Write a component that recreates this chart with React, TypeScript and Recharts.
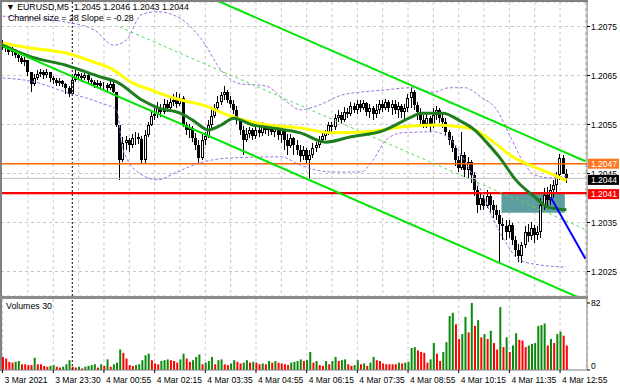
import React from "react";
import {
  ComposedChart,
  Bar,
  Line,
  XAxis,
  YAxis,
  CartesianGrid,
  ReferenceLine,
  ReferenceArea,
  Cell,
} from "recharts";

const FONT = '"Liberation Sans", Arial, sans-serif';

// EURUSD M5 bars [open, high, low, close], 3 Mar 22:10 .. 4 Mar 13:05
const candles: [number, number, number, number][] = [
  [1.20714, 1.20722, 1.20702, 1.20706], [1.20706, 1.20716, 1.20698, 1.20708], [1.20708, 1.2071, 1.20692, 1.20698],
  [1.20698, 1.20708, 1.2069, 1.20702], [1.20702, 1.20704, 1.20686, 1.20692], [1.20692, 1.20698, 1.20678, 1.20686],
  [1.20686, 1.2069, 1.20673, 1.20678], [1.20678, 1.20688, 1.20669, 1.20682], [1.20682, 1.20682, 1.20649, 1.20657],
  [1.20657, 1.20657, 1.20616, 1.20633], [1.20633, 1.20653, 1.20629, 1.20645], [1.20645, 1.20661, 1.20641, 1.20653],
  [1.20653, 1.20663, 1.20647, 1.20657], [1.20657, 1.20661, 1.20643, 1.20651], [1.20651, 1.20663, 1.20645, 1.20657],
  [1.20657, 1.20657, 1.20637, 1.20645], [1.20645, 1.20649, 1.20633, 1.20641], [1.20641, 1.20645, 1.20629, 1.20635],
  [1.20635, 1.20645, 1.20629, 1.20639], [1.20639, 1.20641, 1.20627, 1.20633], [1.20633, 1.20635, 1.20612, 1.20625],
  [1.20625, 1.20629, 1.20606, 1.20612], [1.20612, 1.20649, 1.2061, 1.20641], [1.20641, 1.20661, 1.20637, 1.20653],
  [1.20653, 1.20657, 1.20641, 1.20649], [1.20649, 1.20655, 1.20637, 1.20645], [1.20645, 1.20657, 1.20641, 1.20651],
  [1.20651, 1.20653, 1.20633, 1.20641], [1.20641, 1.20645, 1.20629, 1.20637], [1.20637, 1.20641, 1.20625, 1.20631],
  [1.20631, 1.20641, 1.20625, 1.20635], [1.20635, 1.20639, 1.2062, 1.20629], [1.20629, 1.20637, 1.2062, 1.20631],
  [1.20631, 1.20635, 1.20616, 1.20625], [1.20625, 1.20645, 1.2062, 1.20633], [1.20633, 1.20641, 1.20614, 1.20616],
  [1.20616, 1.20616, 1.20545, 1.20549], [1.20549, 1.20549, 1.20437, 1.20478], [1.20478, 1.20525, 1.20473, 1.20512],
  [1.20512, 1.20527, 1.20498, 1.20518], [1.20518, 1.20522, 1.20494, 1.20508], [1.20508, 1.20531, 1.20502, 1.20522],
  [1.20522, 1.20535, 1.20508, 1.20525], [1.20525, 1.20533, 1.2051, 1.2052], [1.2052, 1.20527, 1.20469, 1.20478],
  [1.20478, 1.20539, 1.20469, 1.20529], [1.20529, 1.20555, 1.20525, 1.20549], [1.20549, 1.2058, 1.20547, 1.20567],
  [1.20567, 1.20584, 1.20559, 1.20571], [1.20571, 1.20596, 1.20563, 1.20584], [1.20584, 1.20592, 1.20565, 1.20576],
  [1.20576, 1.20602, 1.20571, 1.20592], [1.20592, 1.206, 1.20576, 1.20584], [1.20584, 1.20606, 1.2058, 1.20596],
  [1.20596, 1.20612, 1.20588, 1.206], [1.206, 1.20616, 1.20584, 1.20592], [1.20592, 1.20612, 1.20588, 1.20604],
  [1.20604, 1.20608, 1.20545, 1.20549], [1.20549, 1.20555, 1.20529, 1.20539], [1.20539, 1.20551, 1.20522, 1.20543],
  [1.20543, 1.20547, 1.20514, 1.20522], [1.20522, 1.20533, 1.20498, 1.20508], [1.20508, 1.20518, 1.20471, 1.20482],
  [1.20482, 1.20531, 1.20478, 1.20518], [1.20518, 1.20535, 1.20508, 1.20527], [1.20527, 1.20559, 1.20522, 1.20549],
  [1.20549, 1.2058, 1.20543, 1.20567], [1.20567, 1.20592, 1.20563, 1.20584], [1.20584, 1.20608, 1.20576, 1.20596],
  [1.20596, 1.20616, 1.2059, 1.2061], [1.2061, 1.20629, 1.206, 1.20616], [1.20616, 1.2062, 1.20594, 1.206],
  [1.206, 1.20608, 1.20584, 1.20592], [1.20592, 1.206, 1.20571, 1.2058], [1.2058, 1.20588, 1.20551, 1.20559],
  [1.20559, 1.20563, 1.20529, 1.20539], [1.20539, 1.20547, 1.20488, 1.20518], [1.20518, 1.20543, 1.20514, 1.20531],
  [1.20531, 1.20545, 1.20522, 1.20539], [1.20539, 1.20543, 1.20518, 1.20527], [1.20527, 1.20547, 1.2052, 1.20539],
  [1.20539, 1.20549, 1.20525, 1.20533], [1.20533, 1.20555, 1.20527, 1.20547], [1.20547, 1.20551, 1.20531, 1.20539],
  [1.20539, 1.20551, 1.20527, 1.20545], [1.20545, 1.20549, 1.20529, 1.20535], [1.20535, 1.20551, 1.20525, 1.20543],
  [1.20543, 1.20545, 1.20518, 1.20529], [1.20529, 1.20545, 1.20512, 1.20539], [1.20539, 1.20539, 1.20498, 1.20518],
  [1.20518, 1.20531, 1.20488, 1.20506], [1.20506, 1.20531, 1.20502, 1.20522], [1.20522, 1.20525, 1.20488, 1.20508],
  [1.20508, 1.20518, 1.20488, 1.20498], [1.20498, 1.20508, 1.20473, 1.20486], [1.20486, 1.20506, 1.20478, 1.20498],
  [1.20498, 1.20502, 1.20469, 1.20478], [1.20478, 1.20498, 1.20439, 1.20488], [1.20488, 1.20512, 1.20482, 1.20502],
  [1.20502, 1.20514, 1.20494, 1.20508], [1.20508, 1.20527, 1.20502, 1.20518], [1.20518, 1.20533, 1.20514, 1.20527],
  [1.20527, 1.20539, 1.20518, 1.20535], [1.20535, 1.20555, 1.20529, 1.20549], [1.20549, 1.20555, 1.20535, 1.20545],
  [1.20545, 1.20571, 1.20539, 1.20563], [1.20563, 1.2058, 1.20555, 1.20569], [1.20569, 1.20576, 1.20551, 1.20559],
  [1.20559, 1.20586, 1.20555, 1.20576], [1.20576, 1.20584, 1.20563, 1.20571], [1.20571, 1.20596, 1.20567, 1.20588],
  [1.20588, 1.20594, 1.20573, 1.2058], [1.2058, 1.206, 1.20571, 1.20592], [1.20592, 1.206, 1.20576, 1.20584],
  [1.20584, 1.206, 1.2058, 1.20594], [1.20594, 1.20596, 1.20567, 1.20576], [1.20576, 1.20592, 1.20563, 1.20584],
  [1.20584, 1.20588, 1.20559, 1.20571], [1.20571, 1.20592, 1.20563, 1.2058], [1.2058, 1.206, 1.20571, 1.20592],
  [1.20592, 1.206, 1.20576, 1.20584], [1.20584, 1.20602, 1.2058, 1.20596], [1.20596, 1.206, 1.20576, 1.20584],
  [1.20584, 1.206, 1.20569, 1.20592], [1.20592, 1.206, 1.20571, 1.2058], [1.2058, 1.20596, 1.20563, 1.20588],
  [1.20588, 1.20592, 1.20563, 1.20576], [1.20576, 1.20592, 1.20559, 1.20584], [1.20584, 1.20612, 1.20576, 1.20604],
  [1.20604, 1.20627, 1.20584, 1.20616], [1.20616, 1.2062, 1.2058, 1.2059], [1.2059, 1.20596, 1.20559, 1.20576],
  [1.20576, 1.20584, 1.20549, 1.20559], [1.20559, 1.20569, 1.20543, 1.20551], [1.20551, 1.20571, 1.20543, 1.20563],
  [1.20563, 1.20567, 1.20535, 1.20547], [1.20547, 1.20584, 1.20543, 1.20569], [1.20569, 1.20588, 1.20559, 1.2058],
  [1.2058, 1.20584, 1.20553, 1.20563], [1.20563, 1.20571, 1.20543, 1.20555], [1.20555, 1.20563, 1.20527, 1.20535],
  [1.20535, 1.20539, 1.20508, 1.20518], [1.20518, 1.20527, 1.20494, 1.20502], [1.20502, 1.20508, 1.20465, 1.20478],
  [1.20478, 1.20486, 1.20453, 1.20461], [1.20461, 1.20535, 1.20457, 1.20488], [1.20488, 1.20494, 1.20443, 1.20457],
  [1.20457, 1.20484, 1.20441, 1.20473], [1.20473, 1.20478, 1.20431, 1.20447], [1.20447, 1.20453, 1.20404, 1.20416],
  [1.20416, 1.20425, 1.20369, 1.20386], [1.20386, 1.2041, 1.20376, 1.204], [1.204, 1.20406, 1.20376, 1.20384],
  [1.20384, 1.20416, 1.2038, 1.20404], [1.20404, 1.20412, 1.20369, 1.20386], [1.20386, 1.20396, 1.20359, 1.20376],
  [1.20376, 1.20386, 1.20355, 1.20365], [1.20365, 1.20376, 1.2027, 1.20347], [1.20347, 1.20359, 1.20314, 1.20343],
  [1.20343, 1.20355, 1.20314, 1.20331], [1.20331, 1.20355, 1.20318, 1.20345], [1.20345, 1.20349, 1.20304, 1.20314],
  [1.20314, 1.20323, 1.2028, 1.20294], [1.20294, 1.20306, 1.2027, 1.20282], [1.20282, 1.2031, 1.20267, 1.20304],
  [1.20304, 1.20343, 1.20298, 1.20331], [1.20331, 1.20347, 1.2031, 1.20323], [1.20323, 1.20351, 1.20314, 1.20339],
  [1.20339, 1.20345, 1.20308, 1.20325], [1.20325, 1.20343, 1.20314, 1.20331], [1.20331, 1.204, 1.20318, 1.20386],
  [1.20386, 1.2042, 1.20376, 1.20406], [1.20406, 1.20423, 1.20384, 1.20396], [1.20396, 1.20429, 1.20386, 1.20416],
  [1.20416, 1.20437, 1.204, 1.20427], [1.20427, 1.20453, 1.20412, 1.20447], [1.20447, 1.2049, 1.20437, 1.20482],
  [1.20482, 1.20488, 1.20449, 1.2045], [1.2045, 1.2046, 1.2043, 1.2044],
];

const volumes = [
  16, 14, 10, 9, 10, 11, 7, 7, 6, 6, 15, 7, 7, 5, 4, 5, 6, 4, 3, 4,
  7, 12, 4, 3, 4, 2, 4, 5, 6, 7, 3, 7, 5, 13, 4, 7, 9, 25, 21, 14,
  6, 5, 6, 7, 12, 18, 20, 12, 8, 7, 11, 12, 13, 12, 11, 9, 13, 20, 14, 10,
  12, 16, 19, 7, 9, 11, 16, 7, 12, 13, 7, 6, 8, 12, 10, 8, 9, 12, 9, 10,
  9, 7, 8, 7, 11, 9, 11, 9, 8, 7, 6, 9, 10, 11, 13, 11, 12, 22, 9, 11,
  6, 5, 11, 7, 11, 16, 11, 12, 13, 7, 5, 6, 12, 7, 8, 5, 9, 16, 12, 11,
  8, 7, 7, 7, 7, 9, 8, 9, 10, 27, 28, 24, 22, 21, 9, 13, 33, 20, 11, 22,
  34, 66, 70, 56, 38, 44, 65, 46, 82, 54, 61, 40, 44, 38, 48, 33, 25, 77, 28, 40,
  22, 30, 45, 37, 36, 28, 30, 32, 33, 54, 55, 57, 30, 38, 33, 44, 47, 42, 30,
];

const timeLabels = [
  "3 Mar 2021", "3 Mar 23:30", "4 Mar 00:55", "4 Mar 02:15", "4 Mar 03:35", "4 Mar 04:55",
  "4 Mar 06:15", "4 Mar 07:35", "4 Mar 08:55", "4 Mar 10:15", "4 Mar 11:35", "4 Mar 12:55",
];
const labelBars = [0, 16, 32, 48, 64, 80, 96, 112, 128, 144, 160, 176];
const daySeparatorBar = 22;

// indicator lines: [bar, price]
const slowMA: [number, number][] = [
  [0, 1.20716], [10, 1.20705], [20, 1.20696], [29, 1.20677], [34, 1.20665], [41, 1.20635],
  [47, 1.2062], [54, 1.20604], [63, 1.2059], [73, 1.20565], [84, 1.20549], [94, 1.20543],
  [104, 1.20533], [115, 1.20535], [126, 1.20545], [136, 1.20549], [145, 1.20545], [149, 1.20539],
  [155, 1.20514], [161, 1.20484], [168, 1.20463], [174, 1.20447], [178, 1.20435],
];
const fastMA: [number, number][] = [
  [0, 1.20712], [9, 1.20688], [20, 1.20671], [31, 1.20647], [36, 1.20637], [44, 1.206],
  [49, 1.20584], [56, 1.20573], [60, 1.20559], [65, 1.20539], [69, 1.20549], [73, 1.20563],
  [79, 1.20549], [85, 1.20543], [94, 1.20533], [102, 1.20514], [110, 1.20525], [120, 1.20537],
  [129, 1.20565], [132, 1.20573], [139, 1.20573], [144, 1.20559], [149, 1.20539], [153, 1.20512],
  [157, 1.20482], [162, 1.20437], [168, 1.20402], [172, 1.20382], [178, 1.20376],
];
const bandUpper: [number, number][] = [
  [0, 1.20771], [10, 1.20767], [20, 1.20759], [29, 1.20743], [35, 1.20712], [39, 1.20722],
  [44, 1.20775], [49, 1.2078], [56, 1.20767], [63, 1.20722], [69, 1.20661], [75, 1.20633],
  [83, 1.20629], [89, 1.206], [94, 1.2058], [100, 1.2059], [107, 1.2061], [113, 1.20616],
  [120, 1.2062], [129, 1.20625], [136, 1.20616], [141, 1.20625], [146, 1.20625], [151, 1.20606],
  [156, 1.2058], [160, 1.20529], [164, 1.20478], [168, 1.20447], [173, 1.20441], [178, 1.20445],
];
const bandLower: [number, number][] = [
  [0, 1.20645], [10, 1.20637], [20, 1.20616], [31, 1.20594], [36, 1.2058], [38, 1.20498],
  [44, 1.20447], [49, 1.20437], [55, 1.20453], [63, 1.20473], [73, 1.20482], [88, 1.20484],
  [94, 1.20467], [104, 1.20453], [113, 1.20453], [117, 1.20478], [121, 1.20518], [126, 1.20533],
  [136, 1.20535], [141, 1.20522], [147, 1.20463], [151, 1.20416], [155, 1.20355], [159, 1.20308],
  [163, 1.20274], [170, 1.20263], [178, 1.20259],
];

// drawn objects
const channelUpper: [number, number][] = [[68, 1.20802], [184, 1.20475]];
const channelLower: [number, number][] = [[0, 1.2071], [184, 1.20191]];
const channelMid: [number, number][] = [[37, 1.20749], [184, 1.20336]];
const blueLine: [number, number][] = [[173, 1.20402], [184, 1.20276]];
const boxBars = [158, 177];
const boxPrices = [1.2041, 1.2037];
const resistance = 1.2047;
const support = 1.2041;
const bid = 1.2044;
const priceTicks = [1.2025, 1.2035, 1.2045, 1.2055, 1.2065, 1.2075];

const TOTAL_BARS = 185;
const rows = Array.from({ length: TOTAL_BARS }, (_, i) => {
  const c = candles[i];
  const row: any = { i };
  if (c) {
    row.o = c[0];
    row.h = c[1];
    row.l = c[2];
    row.c = c[3];
    row.range = [c[2], c[1]];
    row.v = volumes[i];
  }
  return row;
});
const putLine = (pts: [number, number][], key: string) => {
  pts.forEach(([i, p]) => (rows[i][key] = p));
};
putLine(slowMA, "slow");
putLine(fastMA, "fast");
putLine(bandUpper, "bu");
putLine(bandLower, "bl");

const gridBars = Array.from({ length: 23 }, (_, k) => (k + 1) * 8);

const Candle = (props: any) => {
  const { x, y, width, height, payload } = props;
  if (!payload || payload.o == null) return null;
  const { o, h, l, c } = payload;
  const top = Math.min(y, y + height);
  const hgt = Math.abs(height);
  const span = h - l || 1e-9;
  const py = (v: number) => top + ((h - v) / span) * hgt;
  const n = Math.floor(x + width / 2);
  const bTop = Math.round(py(Math.max(o, c)));
  const bBot = Math.round(py(Math.min(o, c)));
  const up = c > o;
  return (
    <g shapeRendering="crispEdges">
      <line x1={n + 0.5} x2={n + 0.5} y1={Math.round(top)} y2={Math.round(top + Math.max(hgt, 1))} stroke="#000" strokeWidth={1} />
      {up ? (
        <rect x={n - 0.5} y={bTop + 0.5} width={2} height={Math.max(bBot - bTop - 1, 0)} fill="#fff" stroke="#000" strokeWidth={1} />
      ) : (
        <rect x={n - 1} y={bTop} width={3} height={Math.max(bBot - bTop, 1)} fill="#000" />
      )}
    </g>
  );
};

const PriceTag = (props: any) => {
  const { viewBox, text, bg, dy = 0 } = props;
  if (!viewBox) return null;
  const x = viewBox.x + viewBox.width + 1;
  const y = viewBox.y + dy;
  return (
    <g>
      <rect x={x} y={y - 5} width={31} height={10} fill={bg} />
      <text x={x + 3} y={y + 3.3} fontSize={8.5} fontFamily={FONT} fill="#fff">
        {text}
      </text>
    </g>
  );
};

const TimeTick = (props: any) => {
  const { x, y, payload } = props;
  const idx = labelBars.indexOf(payload.value);
  return (
    <g>
      <line x1={x} x2={x} y1={y} y2={y + 3} stroke="#000" />
      <text x={x + 2} y={y + 13} fontSize={8.5} fontFamily={FONT} fill="#000">
        {idx >= 0 ? timeLabels[idx] : ""}
      </text>
    </g>
  );
};

const VolTick = (props: any) => {
  const { x, y, payload } = props;
  return (
    <text x={x} y={y + (payload.value === 0 ? -1 : 3)} fontSize={8.5} fontFamily={FONT} fill="#000">
      {payload.value}
    </text>
  );
};

const segOf = (pts: [number, number][]) => pts.map(([x, y]) => ({ x, y }));

export default function App() {
  return (
    <div
      style={{
        position: "absolute",
        left: 0,
        top: 0,
        width: 620,
        height: 388,
        background: "#fff",
        overflow: "hidden",
        fontFamily: FONT,
      }}
    >
      <div style={{ position: "absolute", left: 0, top: 0 }}>
        <ComposedChart width={620} height={298} data={rows} margin={{ top: 2, right: 0, bottom: 2, left: 1 }}>
          <CartesianGrid stroke="#c8c8c8" strokeDasharray="3 3" />
          <XAxis dataKey="i" type="category" hide ticks={gridBars} interval={0} />
          <YAxis
            orientation="right"
            width={33}
            domain={[1.202, 1.208]}
            allowDataOverflow
            ticks={priceTicks}
            interval={0}
            tickFormatter={(v: number) => v.toFixed(4)}
            tick={{ fontSize: 8.5, fill: "#000", fontFamily: FONT }}
            tickSize={3}
            tickMargin={1}
            axisLine={{ stroke: "#808080" }}
            tickLine={{ stroke: "#000" }}
          />
          <ReferenceArea
            x1={boxBars[0]}
            x2={boxBars[1]}
            y1={boxPrices[1]}
            y2={boxPrices[0]}
            fill="#5f9ea0"
            fillOpacity={1}
            stroke="none"
            ifOverflow="hidden"
          />
          <ReferenceLine x={daySeparatorBar} stroke="#000" strokeDasharray="2 2" />
          <ReferenceLine y={bid} stroke="#c0c0c0" label={<PriceTag text="1.2044" bg="#000" dy={1.5} />} />
          <ReferenceLine y={resistance} stroke="#ff6600" strokeWidth={1.6} label={<PriceTag text="1.2047" bg="#ff7722" />} />
          <ReferenceLine y={support} stroke="#ff0000" strokeWidth={2.2} label={<PriceTag text="1.2041" bg="#ff0000" dy={1} />} />
          <Line dataKey="bu" stroke="#a070e0" strokeDasharray="3 2" strokeWidth={1} dot={false} connectNulls type="monotone" isAnimationActive={false} />
          <Line dataKey="bl" stroke="#a070e0" strokeDasharray="3 2" strokeWidth={1} dot={false} connectNulls type="monotone" isAnimationActive={false} />
          <ReferenceLine segment={segOf(channelMid)} stroke="#55dd55" strokeDasharray="3 3" ifOverflow="hidden" />
          <Bar dataKey="range" barSize={3} shape={<Candle />} isAnimationActive={false} />
          <Line dataKey="slow" stroke="#ffff00" strokeWidth={3} dot={false} connectNulls type="monotone" isAnimationActive={false} />
          <Line dataKey="fast" stroke="#1e7d1e" strokeWidth={3} dot={false} connectNulls type="monotone" isAnimationActive={false} />
          <ReferenceLine segment={segOf(channelUpper)} stroke="#00e600" strokeWidth={2} ifOverflow="hidden" />
          <ReferenceLine segment={segOf(channelLower)} stroke="#00e600" strokeWidth={2} ifOverflow="hidden" />
          <ReferenceLine segment={segOf(blueLine)} stroke="#0000ff" strokeWidth={2} ifOverflow="hidden" />
        </ComposedChart>
      </div>
      <div style={{ position: "absolute", left: 0, top: 296 }}>
        <ComposedChart width={620} height={92} data={rows} margin={{ top: 3, right: 0, bottom: 0, left: 1 }}>
          <CartesianGrid stroke="#c8c8c8" strokeDasharray="3 3" horizontal={false} />
          <XAxis
            dataKey="i"
            type="category"
            ticks={labelBars}
            interval={0}
            height={18}
            tickSize={0}
            tickMargin={0}
            tick={<TimeTick />}
            axisLine={{ stroke: "#808080" }}
          />
          <YAxis
            orientation="right"
            width={33}
            domain={[0, 86.9]}
            allowDataOverflow
            ticks={[0, 82]}
            interval={0}
            tick={<VolTick />}
            tickSize={3}
            tickMargin={1}
            axisLine={{ stroke: "#808080" }}
            tickLine={{ stroke: "#000" }}
          />
          <ReferenceLine x={daySeparatorBar} stroke="#000" strokeDasharray="2 2" />
          <Bar dataKey="v" barSize={2} isAnimationActive={false}>
            {rows.map((r, i) => (
              <Cell key={i} fill={i > 0 && r.v > rows[i - 1].v ? "#0a8a0a" : "#ff0000"} />
            ))}
          </Bar>
        </ComposedChart>
      </div>
      {/* frame */}
      <div style={{ position: "absolute", left: 0, top: 0, width: 588, height: 2, background: "#808080" }} />
      <div style={{ position: "absolute", left: 0, top: 0, width: 2, height: 371, background: "#808080" }} />
      <div style={{ position: "absolute", left: 0, top: 296, width: 588, height: 3, background: "#8c8c8c" }} />
      <div style={{ position: "absolute", left: 6, top: 2, fontSize: 8.8, lineHeight: "10px", color: "#000", whiteSpace: "pre" }}>
        {"▼ EURUSD,M5  1.2045 1.2046 1.2043 1.2044"}
      </div>
      <div style={{ position: "absolute", left: 8, top: 13, fontSize: 8.8, lineHeight: "10px", color: "#000", whiteSpace: "pre" }}>
        {"Channel size = 28 Slope = -0.28"}
      </div>
      <div style={{ position: "absolute", left: 6, top: 301, fontSize: 8.8, lineHeight: "10px", color: "#000", whiteSpace: "pre" }}>
        {"Volumes 30"}
      </div>
    </div>
  );
}
